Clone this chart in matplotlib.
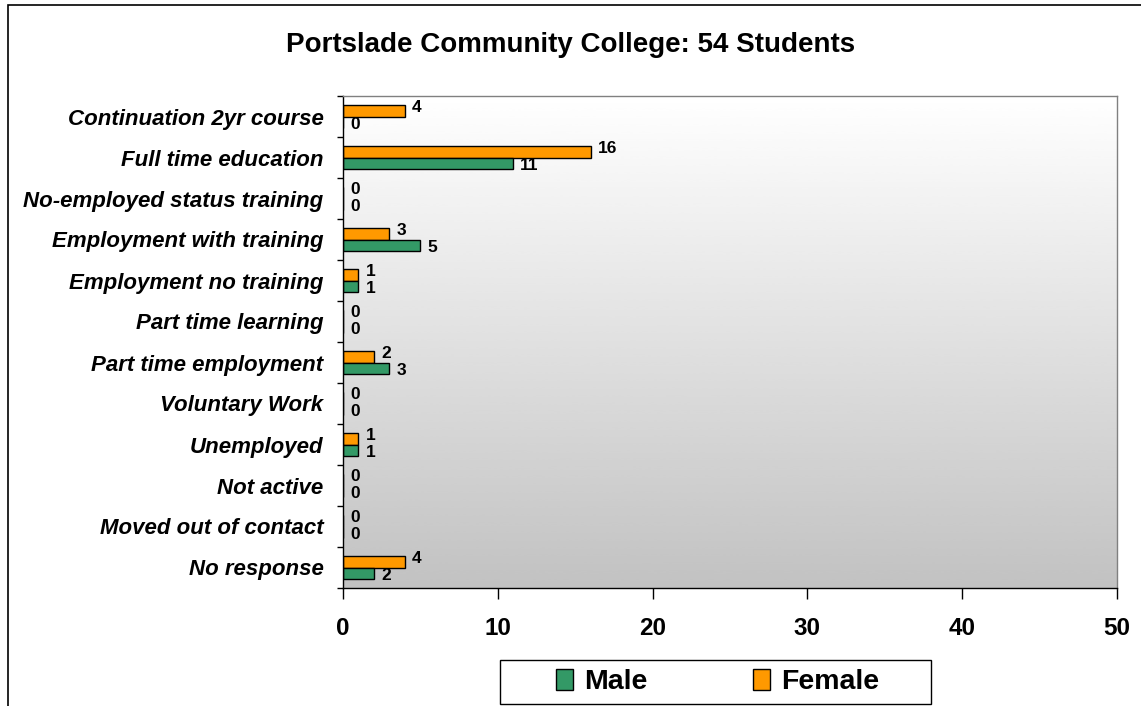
import matplotlib
matplotlib.use("Agg")
import matplotlib.pyplot as plt
import numpy as np
from matplotlib.patches import Rectangle

plt.rcParams['font.family'] = ['Liberation Sans', 'DejaVu Sans']

categories = ["Continuation 2yr course", "Full time education", "No-employed status training",
              "Employment with training", "Employment no training", "Part time learning",
              "Part time employment", "Voluntary Work", "Unemployed", "Not active",
              "Moved out of contact", "No response"]
female = [4, 16, 0, 3, 1, 0, 2, 0, 1, 0, 0, 4]
male = [0, 11, 0, 5, 1, 0, 3, 0, 1, 0, 0, 2]
xticks = [0, 10, 20, 30, 40, 50]
title = "Portslade Community College: 54 Students"

W, H = 1141, 706
fig = plt.figure(figsize=(W / 100, H / 100), dpi=100)
fig.patch.set_facecolor('white')

# figure border (left and top visible)
fig.patches.append(Rectangle((8 / W, -0.1), 1.2, 0.1 + 1 - 5 / H, transform=fig.transFigure,
                             fill=False, edgecolor='black', linewidth=1.2, zorder=0))

ax = fig.add_axes([343 / W, 118 / H, (1117 - 343) / W, (588 - 96) / H])

# gradient background
grad = np.linspace(1.0, 0.76, 256).reshape(-1, 1)
ax.imshow(grad, cmap='gray', vmin=0, vmax=1, aspect='auto', extent=[0, 1, 0, 1],
          transform=ax.transAxes, zorder=0, interpolation='bicubic')

n = len(categories)
y = np.arange(n)
h = 0.29
ax.barh(y - h / 2, female, height=h, color='#FF9900', edgecolor='black', linewidth=1.0, zorder=2, label='Female')
ax.barh(y + h / 2, male, height=h, color='#339966', edgecolor='black', linewidth=1.0, zorder=2, label='Male')

for i in range(n):
    ax.annotate(str(female[i]), (female[i], y[i] - h / 2), xytext=(5, 2.5), textcoords='offset points',
                ha='left', va='center', fontsize=12.5, fontweight='bold')
    ax.annotate(str(male[i]), (male[i], y[i] + h / 2), xytext=(5, -1.5), textcoords='offset points',
                ha='left', va='center', fontsize=12.5, fontweight='bold')

ax.set_xlim(0, 50)
ax.set_ylim(n - 0.5, -0.5)
ax.set_xticks(xticks)
ax.set_xticklabels([str(t) for t in xticks], fontsize=17.5, fontweight='bold')
ax.tick_params(axis='x', length=8, width=1, pad=13, direction='out')

ax.set_yticks(np.arange(n + 1) - 0.5)
ax.set_yticklabels([])
ax.tick_params(axis='y', which='major', length=4, width=1, direction='out')
ax.set_yticks(y, minor=True)
ax.set_yticklabels(categories, minor=True, fontsize=16, fontweight='bold', fontstyle='italic')
ax.tick_params(axis='y', which='minor', length=0, pad=14)

for s in ['left', 'bottom']:
    ax.spines[s].set_color('black')
    ax.spines[s].set_linewidth(1.0)
for s in ['top', 'right']:
    ax.spines[s].set_color('#808080')
    ax.spines[s].set_linewidth(1.0)

fig.text(0.5, 1 - 45 / H, title, ha='center', va='center', fontsize=20, fontweight='bold')

# legend box
fig.patches.append(Rectangle((500 / W, 2 / H), 431 / W, 44 / H, transform=fig.transFigure,
                             facecolor='white', edgecolor='black', linewidth=1.0, zorder=1))
handles, labels = ax.get_legend_handles_labels()
leg = fig.legend(handles[::-1], labels[::-1], loc='center', bbox_to_anchor=(717.5 / W, 24 / H), ncol=2,
                 frameon=False, prop={'weight': 'bold', 'size': 20.5},
                 handlelength=0.6, handleheight=0.8, handletextpad=0.4, columnspacing=3.7,
                 borderpad=0.3)

fig.savefig('out.png', dpi=100)
